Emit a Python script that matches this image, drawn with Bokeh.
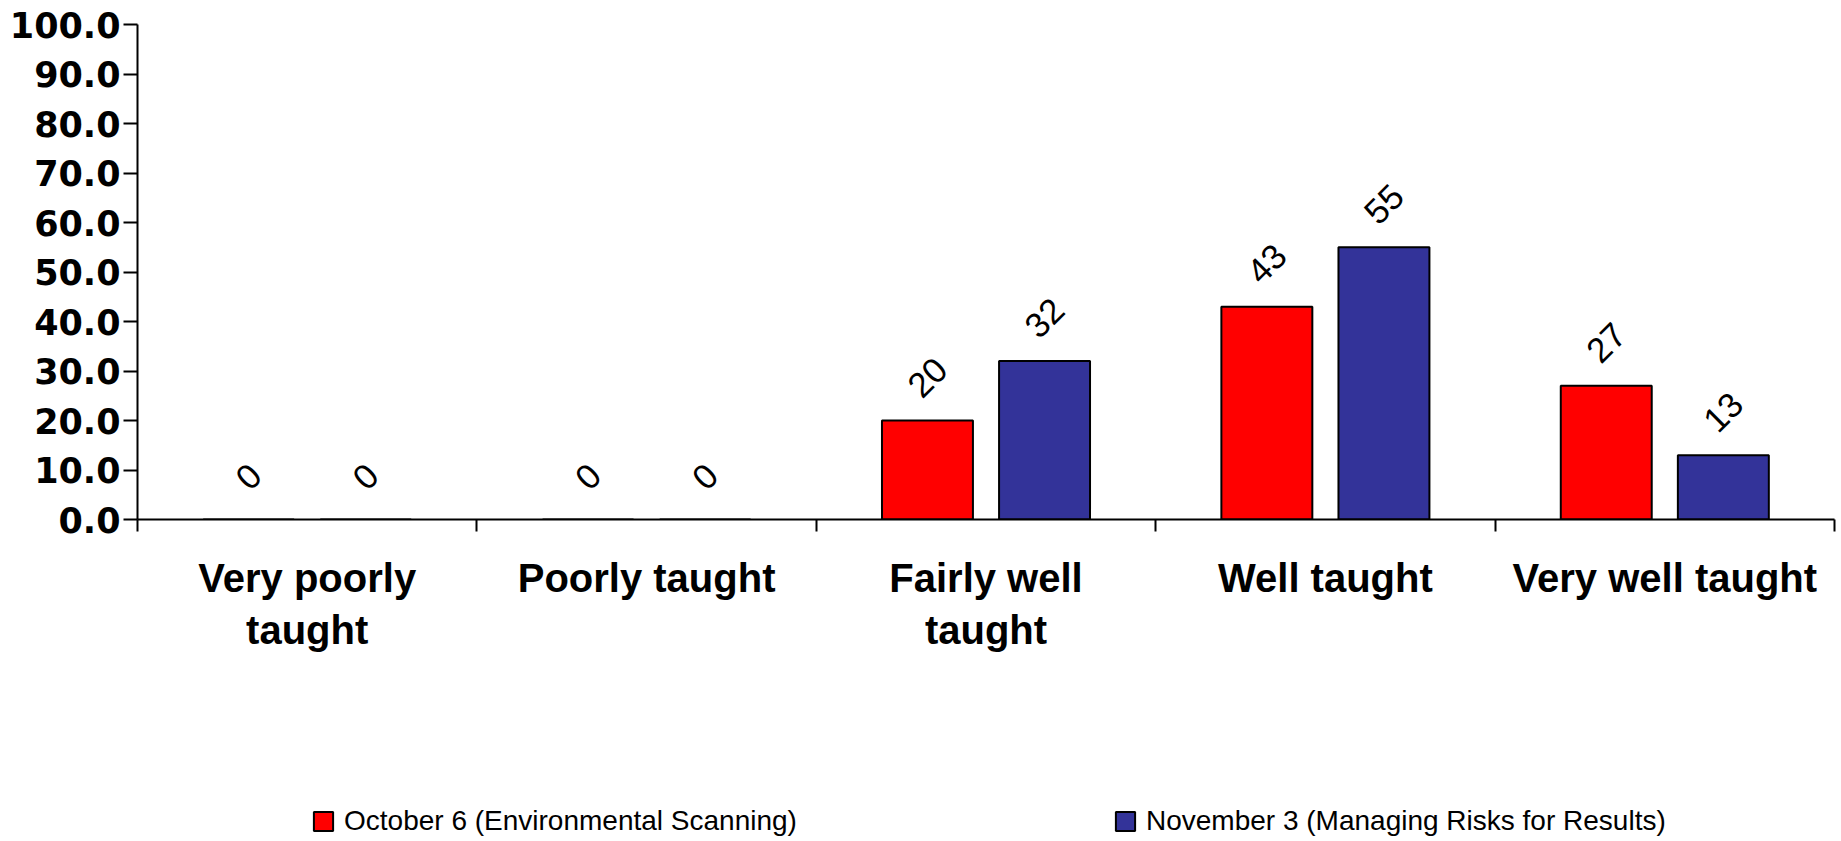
import math
from bokeh.plotting import figure
from bokeh.layouts import column
from bokeh.models import (Range1d, LinearAxis, FixedTicker, Legend, LegendItem,
                          PrintfTickFormatter, ColumnDataSource)
from bokeh.transform import dodge
from bokeh.core.properties import value
from bokeh.embed import file_html
from bokeh.resources import INLINE

categories = ["Very poorly taught", "Poorly taught", "Fairly well taught", "Well taught", "Very well taught"]
tick_labels = ["Very poorly\ntaught", "Poorly taught", "Fairly well\ntaught", "Well taught", "Very well taught"]
october = [0, 0, 20, 43, 27]
november = [0, 0, 32, 55, 13]
series_names = ["October 6 (Environmental Scanning)", "November 3 (Managing Risks for Results)"]
series_colors = ["#FF0000", "#333399"]
y_ticks = [0, 10, 20, 30, 40, 50, 60, 70, 80, 90, 100]

n = len(categories)
src = ColumnDataSource(dict(
    pos=[i + 0.5 for i in range(n)],   # category centres on a 0..n axis
    cat=categories,
    oct=october,
    nov=november,
    oct_txt=[str(v) for v in october],
    nov_txt=[str(v) for v in november],
))

W = 1836
p = figure(width=W, height=679, x_range=Range1d(0, n), y_range=Range1d(0, 100),
           x_axis_type=None, y_axis_type=None, output_backend="svg", toolbar_location=None,
           min_border_left=137, min_border_right=2, min_border_top=24, min_border_bottom=160)
p.outline_line_color = None
p.grid.visible = False
p.background_fill_color = "white"

xax = LinearAxis(ticker=FixedTicker(ticks=[i + 0.5 for i in range(n)],
                                    minor_ticks=list(range(n + 1))))
xax.major_label_overrides = {i + 0.5: lab for i, lab in enumerate(tick_labels)}
xax.major_tick_out = 0
xax.major_tick_in = 0
xax.minor_tick_out = 12
xax.minor_tick_in = 0
xax.minor_tick_line_width = 2
xax.minor_tick_line_color = "black"
xax.axis_line_width = 2
xax.axis_line_color = "black"
xax.major_label_standoff = 24
xax.major_label_text_font = "Liberation Sans"
xax.major_label_text_font_style = "bold"
xax.major_label_text_font_size = "40px"
xax.major_label_text_color = "black"
xax.major_label_orientation = "horizontal"
p.add_layout(xax, "below")

yax = LinearAxis(ticker=FixedTicker(ticks=y_ticks), formatter=PrintfTickFormatter(format="%.1f"))
yax.axis_line_width = 2
yax.axis_line_color = "black"
yax.major_tick_out = 14
yax.major_tick_in = 0
yax.major_tick_line_width = 2
yax.major_tick_line_color = "black"
yax.minor_tick_line_color = None
yax.major_label_standoff = 3
yax.major_label_text_font = "DejaVu Sans"
yax.major_label_text_font_style = "bold"
yax.major_label_text_font_size = "35px"
yax.major_label_text_color = "black"
p.add_layout(yax, "left")

off = 0.1725
bw = 0.268
p.vbar(x=dodge("pos", -off), top="oct", width=bw, source=src,
       fill_color=series_colors[0], line_color="black", line_width=2)
p.vbar(x=dodge("pos", off), top="nov", width=bw, source=src,
       fill_color=series_colors[1], line_color="black", line_width=2)

for col, txt, d in (("oct", "oct_txt", -off), ("nov", "nov_txt", off)):
    p.text(x=dodge("pos", d), y=col, text=txt, source=src,
           angle=math.pi / 4, text_align="center", text_baseline="middle", y_offset=-43,
           text_font=value("Liberation Sans"), text_font_size="35px", text_color="black")

# legend strip below the chart (its frame is aligned with the chart's frame)
lg = figure(width=W, height=160, x_range=Range1d(0, n), y_range=Range1d(0, 100),
            x_axis_type=None, y_axis_type=None, output_backend="svg", toolbar_location=None,
            min_border=0)
lg.outline_line_color = None
lg.grid.visible = False
for name, color, col, xloc in ((series_names[0], series_colors[0], "oct", 174),
                               (series_names[1], series_colors[1], "nov", 976)):
    # hidden copy of the series, used only for its legend swatch
    r = lg.vbar(x="pos", top=col, width=bw, source=src, fill_color=color,
                line_color="black", line_width=2, visible=False)
    leg = Legend(items=[LegendItem(label=name, renderers=[r])], location=(xloc, 2),
                 padding=0, margin=0, border_line_color=None, background_fill_alpha=0,
                 inactive_fill_alpha=0,
                 glyph_width=24, glyph_height=24, label_standoff=9,
                 label_text_font="Liberation Sans", label_text_font_size="28px",
                 label_text_color="black")
    lg.add_layout(leg, "center")

layout = column(p, lg, spacing=0)
open("out.html", "w").write(file_html(layout, INLINE))
